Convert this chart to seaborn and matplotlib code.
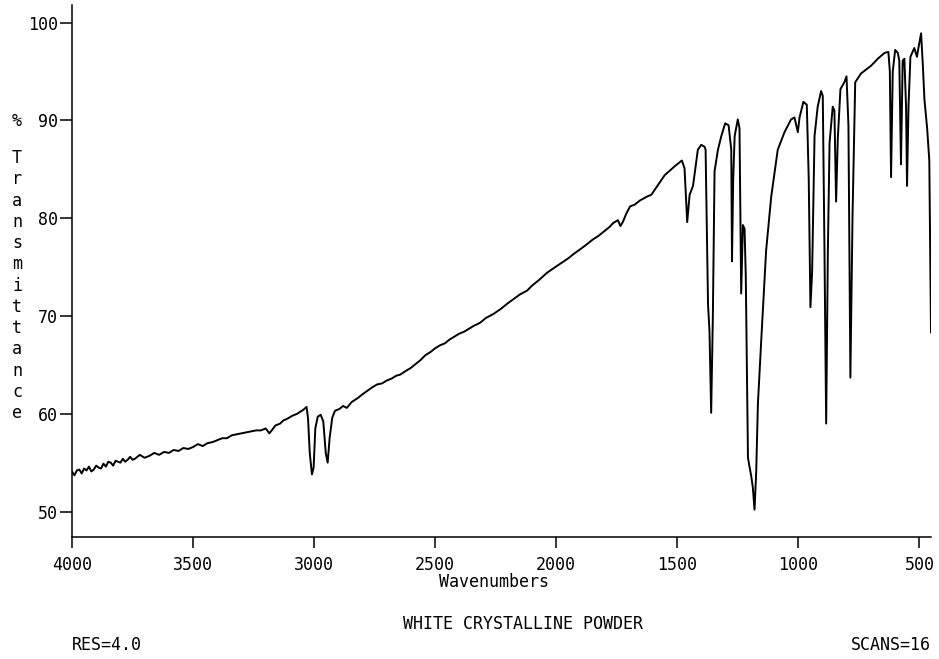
import numpy as np
import pandas as pd
import matplotlib
matplotlib.use("Agg")
import matplotlib.pyplot as plt
import seaborn as sns

# wavenumbers (cm-1) and % transmittance
wavenumber = [
    4000, 3990, 3980, 3970, 3960, 3950, 3940, 3930, 3920, 3910,
    3900, 3890, 3880, 3870, 3860, 3850, 3840, 3830, 3820, 3810,
    3800, 3790, 3780, 3770, 3760, 3750, 3740, 3720, 3700, 3680,
    3660, 3640, 3620, 3600, 3580, 3560, 3540, 3520, 3500, 3480,
    3460, 3440, 3420, 3400, 3380, 3360, 3340, 3320, 3300, 3280,
    3260, 3240, 3220, 3200, 3185, 3175, 3160, 3140, 3128, 3110,
    3090, 3070, 3058, 3045, 3031, 3025, 3018, 3009, 3002, 2995,
    2985, 2973, 2962, 2952, 2944, 2936, 2925, 2914, 2895, 2880,
    2865, 2845, 2820, 2800, 2783, 2760, 2740, 2720, 2700, 2680,
    2660, 2645, 2620, 2600, 2580, 2560, 2540, 2520, 2500, 2480,
    2460, 2440, 2420, 2400, 2380, 2360, 2340, 2315, 2290, 2260,
    2230, 2200, 2178, 2150, 2120, 2100, 2070, 2039, 2010, 1980,
    1950, 1925, 1902, 1875, 1850, 1825, 1800, 1780, 1765, 1745,
    1735, 1725, 1710, 1695, 1675, 1655, 1640, 1626, 1607, 1552,
    1511, 1481, 1470, 1459, 1449, 1435, 1415, 1401, 1387, 1383,
    1373, 1367, 1360, 1353, 1346, 1332, 1318, 1302, 1288, 1277,
    1274, 1269, 1263, 1250, 1243, 1236, 1229, 1222, 1217, 1208,
    1201, 1195, 1188, 1181, 1174, 1167, 1153, 1133, 1112, 1085,
    1057, 1030, 1016, 1002, 995, 979, 965, 957, 950, 943,
    933, 920, 906, 899, 892, 885, 878, 871, 858, 851,
    844, 837, 826, 810, 801, 793, 785, 776, 765, 741,
    699, 672, 644, 628, 622, 617, 610, 600, 589, 583,
    576, 569, 562, 555, 551, 545, 537, 521, 510, 504,
    493, 486, 479, 468, 459, 452,
]
transmittance = [
    54.1, 53.7, 54.2, 54.3, 53.9, 54.4, 54.2, 54.6, 54.1, 54.3,
    54.7, 54.5, 54.4, 54.9, 54.6, 55.1, 55.0, 54.7, 55.2, 55.1,
    55.0, 55.4, 55.1, 55.3, 55.6, 55.3, 55.4, 55.8, 55.5, 55.7,
    56.0, 55.8, 56.1, 56.0, 56.3, 56.2, 56.5, 56.4, 56.6, 56.9,
    56.7, 57.0, 57.1, 57.3, 57.5, 57.5, 57.8, 57.9, 58.0, 58.1,
    58.2, 58.3, 58.3, 58.5, 58.0, 58.3, 58.8, 59.0, 59.3, 59.5,
    59.8, 60.0, 60.2, 60.4, 60.7, 59.5, 56.0, 53.8, 54.5, 58.5,
    59.7, 59.9, 59.2, 56.0, 55.0, 57.5, 59.6, 60.3, 60.5, 60.8,
    60.6, 61.2, 61.6, 62.0, 62.3, 62.7, 63.0, 63.1, 63.4, 63.6,
    63.9, 64.0, 64.4, 64.7, 65.1, 65.5, 66.0, 66.3, 66.7, 67.0,
    67.2, 67.6, 67.9, 68.2, 68.4, 68.7, 69.0, 69.3, 69.8, 70.2,
    70.7, 71.3, 71.7, 72.2, 72.6, 73.1, 73.7, 74.4, 74.9, 75.4,
    75.9, 76.4, 76.8, 77.3, 77.8, 78.2, 78.7, 79.1, 79.5, 79.8,
    79.2, 79.6, 80.5, 81.2, 81.4, 81.8, 82.0, 82.2, 82.4, 84.4,
    85.3, 85.9, 85.1, 79.6, 82.4, 83.3, 87.0, 87.5, 87.3, 87.0,
    71.2, 68.5, 60.1, 70.0, 84.8, 87.0, 88.4, 89.7, 89.5, 87.0,
    75.6, 84.0, 88.4, 90.1, 89.2, 72.3, 79.3, 78.9, 74.0, 55.5,
    54.5, 53.7, 52.5, 50.2, 54.0, 61.0, 67.6, 76.7, 82.2, 87.0,
    88.8, 90.1, 90.3, 88.8, 90.3, 91.9, 91.6, 84.0, 70.9, 74.5,
    88.4, 91.4, 93.0, 92.5, 76.7, 59.0, 76.7, 87.7, 91.4, 91.0,
    81.7, 88.1, 93.2, 93.9, 94.5, 89.5, 63.7, 80.4, 93.9, 94.8,
    95.6, 96.3, 96.9, 97.0, 95.0, 84.2, 95.0, 97.2, 96.9, 96.1,
    85.5, 96.1, 96.3, 91.4, 83.3, 91.4, 96.5, 97.4, 96.5, 97.4,
    98.9, 95.8, 92.1, 89.2, 85.9, 68.3,
]

x_ticks = [4000, 3500, 3000, 2500, 2000, 1500, 1000, 500]
y_ticks = [50, 60, 70, 80, 90, 100]

df = pd.DataFrame({"Wavenumbers": wavenumber, "T": transmittance})

sns.set_style("ticks")
plt.rcParams['font.family'] = ['DejaVu Sans Mono', 'DejaVu Sans']
plt.rcParams['text.color'] = 'black'

W, H = 939, 659
fig = plt.figure(figsize=(W / 100, H / 100), dpi=100)
ax = fig.add_axes([72 / W, 1 - 537 / H, (931 - 72) / W, (537 - 5) / H])

sns.lineplot(data=df, x="Wavenumbers", y="T", ax=ax, color="black",
             linewidth=1.4, estimator=None)

ax.set_xlim(4000, 452)
ax.set_ylim(47.4, 101.8)
ax.set_xticks(x_ticks)
ax.set_yticks(y_ticks)
ax.set_xlabel("")
ax.set_ylabel("")
sns.despine(ax=ax)
for s in ["left", "bottom"]:
    ax.spines[s].set_linewidth(1.1)
    ax.spines[s].set_color("black")
ax.tick_params(axis="x", direction="out", length=8, width=1.1, pad=6,
               labelsize=12, colors="black")
ax.tick_params(axis="y", direction="out", length=9, width=1.1, pad=1,
               labelsize=12, colors="black")

fig.text(494 / W, 1 - 582 / H, "Wavenumbers", ha="center", va="center", fontsize=12)
fig.text(523 / W, 1 - 624 / H, "WHITE CRYSTALLINE POWDER", ha="center", va="center", fontsize=12)
fig.text(72 / W, 1 - 645 / H, "RES=4.0", ha="left", va="center", fontsize=12)
fig.text(931 / W, 1 - 645 / H, "SCANS=16", ha="right", va="center", fontsize=12)

# stacked vertical y label
fig.text(17 / W, 1 - 121 / H, "%", ha="center", va="center", fontsize=12)
for i, ch in enumerate("Transmittance"):
    fig.text(17 / W, 1 - (158 + i * 21.25) / H, ch, ha="center", va="center", fontsize=12)

fig.savefig("out.png", dpi=100)
